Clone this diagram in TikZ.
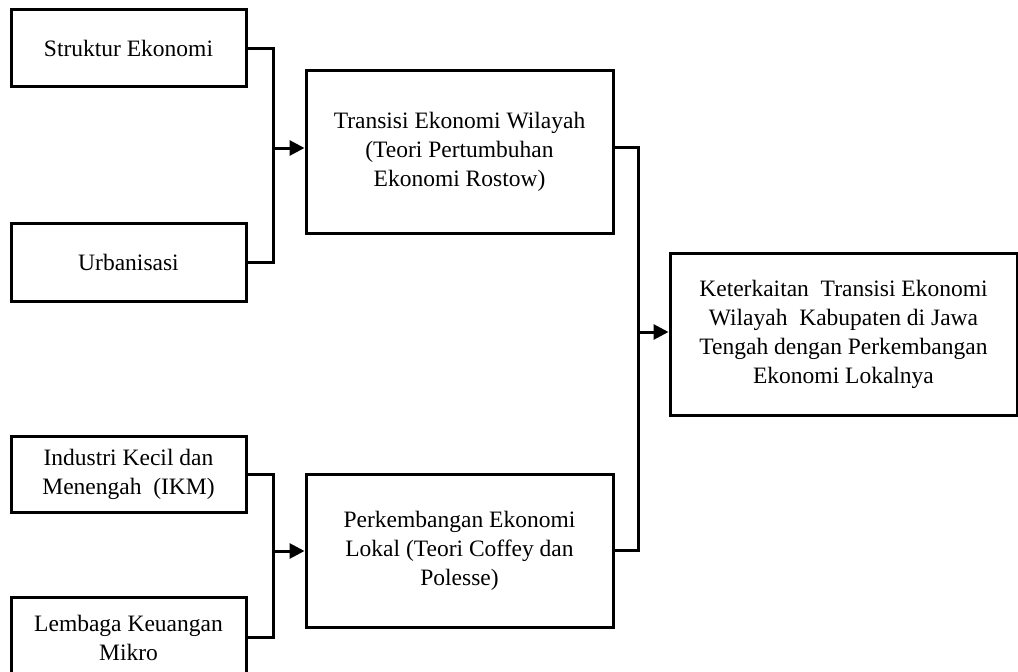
\documentclass[tikz,border=0pt]{standalone}
\usepackage{fontspec}
\setmainfont{Liberation Serif}
\usetikzlibrary{arrows.meta}
\begin{document}
\begin{tikzpicture}[x=1pt,y=1pt,
  box/.style={draw=black,line width=3pt,rectangle,align=center,inner sep=0pt,
    font=\fontsize{23.5}{29}\selectfont},
  conn/.style={line width=3pt,line join=miter},
  arr/.style={conn,-{Triangle[length=15pt,width=15pt]}}]
\useasboundingbox (0,0) rectangle (1018,-672);
\node[box,minimum width=235pt,minimum height=77pt] (s1) at (128.5,-48) {Struktur Ekonomi};
\node[box,minimum width=235pt,minimum height=78pt] (s2) at (128.5,-262) {Urbanisasi};
\node[box,minimum width=307pt,minimum height=163pt] (t) at (459.5,-151.5) {\raisebox{-3pt}{\begin{tabular}{@{}c@{}}Transisi Ekonomi Wilayah\\(Teori Pertumbuhan\\Ekonomi Rostow)\end{tabular}}};
\node[box,minimum width=347pt,minimum height=162pt] (k) at (843.5,-334) {Keterkaitan\ \ Transisi Ekonomi\\Wilayah\ \ Kabupaten di Jawa\\Tengah dengan Perkembangan\\Ekonomi Lokalnya};
\node[box,minimum width=235pt,minimum height=76pt] (i) at (128.5,-474) {Industri Kecil dan\\Menengah\ \ (IKM)};
\node[box,minimum width=235pt,minimum height=81pt] (l) at (128.5,-637.5) {Lembaga Keuangan\\Mikro};
\node[box,minimum width=307pt,minimum height=153pt] (p) at (459.5,-550.5) {Perkembangan Ekonomi\\Lokal (Teori Coffey dan\\Polesse)};
\coordinate (j1) at (273,-148);
\coordinate (j2) at (273,-551);
\coordinate (j3) at (638,-332);
\coordinate (te) at (613,-147);
\draw[conn] (s1.east) -| (j1) |- (s2.east);
\draw[arr] (j1) -- (j1 -| t.west);
\draw[conn] (i.east) -| (j2) |- (l.east);
\draw[arr] (j2) -- (j2 -| p.west);
\draw[conn] (te) -| (j3) |- (p.east);
\draw[arr] (j3) -- (j3 -| k.west);
\end{tikzpicture}
\end{document}
